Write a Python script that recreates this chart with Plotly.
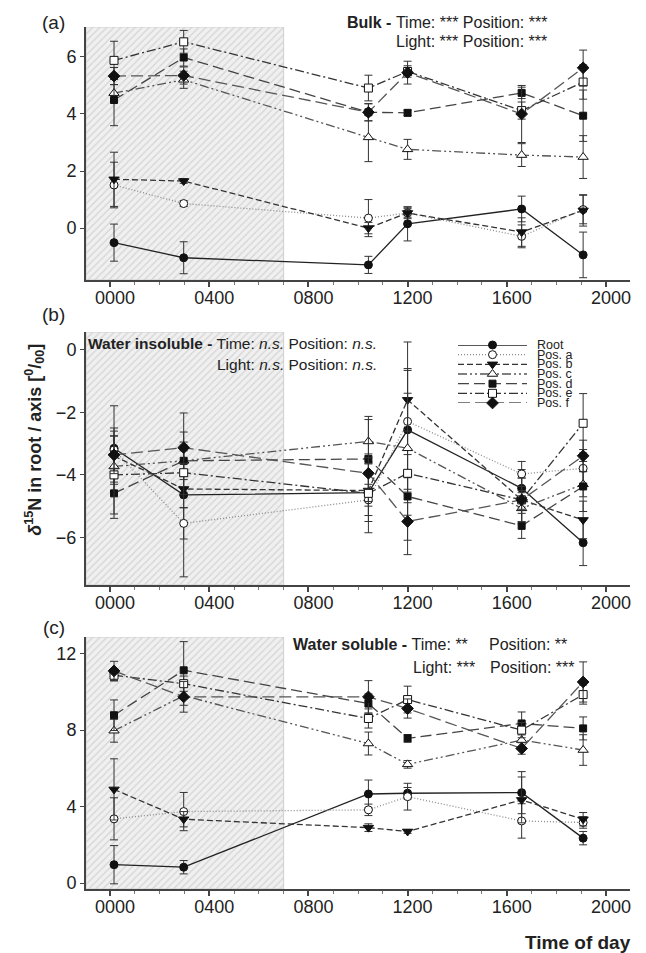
import plotly.graph_objects as go

# ---------------- data ----------------
times = [0.16, 2.97, 10.42, 12.0, 16.6, 19.08]          # hours of day
x_tickvals = [0, 4, 8, 12, 16, 20]
x_ticktext = ["0000", "0400", "0800", "1200", "1600", "2000"]
dark_end = 7.0                                           # end of dark period (h)

series_names = ["Root", "Pos. a", "Pos. b", "Pos. c", "Pos. d", "Pos. e", "Pos. f"]

# (a) Bulk
bulk_root = [-0.51, -1.04, -1.29, 0.15, 0.67, -0.94]
bulk_root_err = [0.65, 0.56, 0.30, 0.60, 0.45, 0.80]
bulk_a = [1.51, 0.86, 0.35, 0.53, -0.29, 0.65]
bulk_a_err = [0.80, 0.10, 0.65, 0.15, 0.40, 0.50]
bulk_b = [1.71, 1.65, 0.00, 0.53, -0.14, 0.62]
bulk_b_err = [0.95, 0.08, 0.20, 0.20, 0.50, 0.55]
bulk_c = [4.73, 5.20, 3.18, 2.76, 2.56, 2.49]
bulk_c_err = [0.30, 0.30, 0.85, 0.35, 0.40, 0.75]
bulk_d = [4.49, 5.98, 4.06, 4.04, 4.74, 3.94]
bulk_d_err = [0.90, 0.30, 0.30, 0.10, 0.20, 0.90]
bulk_e = [5.88, 6.53, 4.91, 5.49, 4.12, 5.12]
bulk_e_err = [0.67, 0.40, 0.45, 0.20, 0.30, 0.60]
bulk_f = [5.33, 5.35, 4.06, 5.45, 4.00, 5.62]
bulk_f_err = [0.30, 0.30, 0.30, 0.40, 1.00, 0.62]

# (b) Water insoluble
insol_root = [-3.15, -4.64, -4.57, -2.56, -4.43, -6.17]
insol_root_err = [1.36, 2.62, 0.92, 1.90, 0.60, 0.73]
insol_a = [-3.20, -5.55, -4.80, -2.29, -3.97, -3.79]
insol_a_err = [0.60, 0.50, 0.50, 0.90, 0.40, 0.60]
insol_b = [-3.40, -4.45, -4.50, -1.60, -4.80, -5.44]
insol_b_err = [0.90, 0.60, 0.50, 1.00, 0.70, 0.60]
insol_c = [-3.73, -3.55, -2.93, -3.15, -5.07, -4.30]
insol_c_err = [0.50, 0.50, 0.70, 3.40, 0.50, 0.40]
insol_d = [-4.59, -3.55, -3.49, -4.69, -5.63, -4.37]
insol_d_err = [0.80, 0.60, 1.36, 0.60, 0.40, 0.80]
insol_e = [-4.00, -3.93, -4.59, -3.95, -4.80, -2.35]
insol_e_err = [1.25, 0.70, 1.26, 0.60, 0.30, 0.95]
insol_f = [-3.36, -3.13, -3.95, -5.49, -4.80, -3.39]
insol_f_err = [0.60, 0.50, 0.50, 0.60, 0.70, 0.50]

# (c) Water soluble
sol_root = [0.96, 0.83, 4.66, 4.70, 4.73, 2.35]
sol_root_err = [1.00, 0.35, 0.73, 0.30, 1.10, 0.35]
sol_a = [3.36, 3.74, 3.83, 4.52, 3.25, 3.17]
sol_a_err = [1.10, 1.00, 0.30, 0.70, 0.90, 0.30]
sol_b = [4.90, 3.34, 2.90, 2.70, 4.35, 3.34]
sol_b_err = [1.60, 0.40, 0.20, 0.10, 1.20, 0.35]
sol_c = [7.97, 9.80, 7.30, 6.21, 7.48, 6.96]
sol_c_err = [0.60, 0.50, 0.60, 0.20, 0.50, 0.80]
sol_d = [8.78, 11.13, 9.39, 7.57, 8.35, 8.09]
sol_d_err = [0.80, 1.50, 0.50, 0.20, 0.60, 0.60]
sol_e = [10.87, 10.43, 8.61, 9.60, 8.00, 9.86]
sol_e_err = [0.30, 0.40, 0.50, 0.70, 0.40, 0.50]
sol_f = [11.10, 9.74, 9.74, 9.13, 7.04, 10.52]
sol_f_err = [0.50, 0.80, 0.85, 0.50, 0.30, 1.05]

# ---------------- styles ----------------
FONT = "Liberation Sans, Arial, sans-serif"
styles = [
    dict(dash="solid", lc="#222222", sym="circle", fill="#111111", size=8),
    dict(dash="1px,2px", lc="#8a8a8a", sym="circle", fill="white", size=8),
    dict(dash="6px,3px", lc="#333333", sym="triangle-down", fill="#111111", size=9),
    dict(dash="9px,3px,2px,3px,2px,3px", lc="#555555", sym="triangle-up", fill="white", size=9),
    dict(dash="11px,5px", lc="#444444", sym="square", fill="#111111", size=7),
    dict(dash="9px,3px,2px,3px", lc="#333333", sym="square", fill="white", size=8),
    dict(dash="12px,5px", lc="#555555", sym="diamond", fill="#111111", size=9),
]

x_range = [-0.97, 20.97]
panels = [
    dict(xa="x", ya="y", yrange=[-1.82, 7.05], yticks=[0, 2, 4, 6], dom=[0.7065, 1.0],
         data=[(bulk_root, bulk_root_err), (bulk_a, bulk_a_err), (bulk_b, bulk_b_err),
               (bulk_c, bulk_c_err), (bulk_d, bulk_d_err), (bulk_e, bulk_e_err),
               (bulk_f, bulk_f_err)]),
    dict(xa="x2", ya="y2", yrange=[-7.52, 0.57], yticks=[-6, -4, -2, 0], dom=[0.3527, 0.6462],
         data=[(insol_root, insol_root_err), (insol_a, insol_a_err), (insol_b, insol_b_err),
               (insol_c, insol_c_err), (insol_d, insol_d_err), (insol_e, insol_e_err),
               (insol_f, insol_f_err)]),
    dict(xa="x3", ya="y3", yrange=[-0.31, 12.87], yticks=[0, 4, 8, 12], dom=[0.0, 0.2923],
         data=[(sol_root, sol_root_err), (sol_a, sol_a_err), (sol_b, sol_b_err),
               (sol_c, sol_c_err), (sol_d, sol_d_err), (sol_e, sol_e_err),
               (sol_f, sol_f_err)]),
]

fig = go.Figure()

for p in panels:
    y0, y1 = p["yrange"]
    x0 = x_range[0]
    # hatched dark period
    fig.add_trace(go.Scatter(
        x=[x0, dark_end, dark_end, x0, x0], y=[y0, y0, y1, y1, y0],
        xaxis=p["xa"], yaxis=p["ya"], mode="lines", fill="toself",
        fillcolor="#eeeeee",
        fillpattern=dict(shape="/", size=5, solidity=0.25, fgcolor="#b8b8b8", bgcolor="#f0f0f0"),
        line=dict(color="#cfcfcf", width=1), hoverinfo="skip", showlegend=False))
    for (vals, errs), st, name in zip(p["data"], styles, series_names):
        fig.add_trace(go.Scatter(
            x=times, y=vals, name=name, xaxis=p["xa"], yaxis=p["ya"],
            mode="lines+markers",
            line=dict(color=st["lc"], width=1.3, dash=st["dash"]),
            marker=dict(symbol=st["sym"], size=st["size"], color=st["fill"],
                        line=dict(color="#111111", width=1)),
            error_y=dict(type="data", array=errs, visible=True, color="#333333",
                         thickness=1, width=4),
            showlegend=False))

axis_common = dict(showline=True, linecolor="#444444", linewidth=2, showgrid=False,
                   zeroline=False, ticks="outside", tickcolor="#444444",
                   tickfont=dict(family=FONT, size=18, color="#222222"))

layout_axes = {}
for i, p in enumerate(panels):
    sfx = "" if i == 0 else str(i + 1)
    layout_axes["xaxis" + sfx] = dict(
        axis_common, domain=[0, 1], anchor=p["ya"], range=x_range,
        tickmode="array", tickvals=x_tickvals, ticktext=x_ticktext, ticklen=5, tickwidth=1.5,
        ticklabelshift=5, ticklabelstandoff=-5,
        minor=dict(tickmode="linear", tick0=0, dtick=1, ticks="outside", ticklen=3,
                   tickcolor="#777777", tickwidth=1))
    layout_axes["yaxis" + sfx] = dict(
        axis_common, domain=p["dom"], anchor=p["xa"], range=p["yrange"],
        tickmode="array", tickvals=p["yticks"], ticklen=4, tickwidth=1.2)

# ---------- hand-made legend inside panel (b) ----------
layout_axes["xaxis4"] = dict(domain=[0.6838, 0.8107], range=[0, 1], anchor="y4", visible=False,
                             fixedrange=True)
layout_axes["yaxis4"] = dict(domain=[0.5638, 0.6311], range=[6, 0], anchor="x4", visible=False,
                             fixedrange=True)
legend_ann = []
for i, (st, name) in enumerate(zip(styles, series_names)):
    fig.add_trace(go.Scatter(x=[0, 1], y=[i, i], xaxis="x4", yaxis="y4", mode="lines",
                             line=dict(color=st["lc"], width=1.3, dash=st["dash"]),
                             cliponaxis=False, hoverinfo="skip", showlegend=False))
    fig.add_trace(go.Scatter(x=[0.5], y=[i], xaxis="x4", yaxis="y4", mode="markers",
                             marker=dict(symbol=st["sym"], size=st["size"], color=st["fill"],
                                         line=dict(color="#111111", width=1)),
                             cliponaxis=False, hoverinfo="skip", showlegend=False))
    legend_ann.append(dict(x=1, y=i, xref="x4", yref="y4", text=name, showarrow=False,
                           xanchor="left", yanchor="middle", xshift=8,
                           font=dict(family=FONT, size=12.5, color="#222222")))

def ann(text, x, y, xanchor="right", size=16, **kw):
    return dict(text=text, x=x, y=y, xref="paper", yref="paper", showarrow=False,
                xanchor=xanchor, yanchor="middle",
                font=dict(family=FONT, size=size, color="#222222"), **kw)

annotations = legend_ann + [
    ann("(a)", -0.059, 1.0058, xanchor="center", size=19),
    ann("(b)", -0.059, 0.6659, xanchor="center", size=19),
    ann("(c)", -0.059, 0.3039, xanchor="center", size=19),
    ann("<b>Bulk - </b>Time: *** Position: ***", 0.851, 1.005),
    ann("Light: *** Position: ***", 0.851, 0.983),
    ann("<b>Water insoluble - </b>Time: <i>n.s.</i> Position: <i>n.s.</i>", 0.5386, 0.6334, size=15.5),
    ann("Light: <i>n.s.</i> Position: <i>n.s.</i>", 0.5386, 0.6090, size=15.5),
    ann("<b>Water soluble - </b>Time: **", 0.7059, 0.2831),
    ann("Position: **", 0.7371, 0.2831, xanchor="left"),
    ann("Light: ***", 0.7188, 0.2575),
    ann("Position: ***", 0.739, 0.2575, xanchor="left"),
    ann("<b><i>δ</i><sup>15</sup>N in root / axis [<sup>0</sup>/<sub>00</sub>]</b>",
        -0.094, 0.521, xanchor="center", size=18, textangle=-90),
    ann("<b>Time of day</b>", 1.0055, -0.0615, size=19),
]

# The page body has an 8 px margin, so the figure is sized 8 px smaller and the
# margins shifted so the plot areas land where the reference has them.
fig.update_layout(
    width=638, height=945,
    margin=dict(l=78, r=16, t=19, b=64),
    paper_bgcolor="white", plot_bgcolor="rgba(0,0,0,0)",
    showlegend=False,
    font=dict(family=FONT, color="#222222"),
    annotations=annotations,
    **layout_axes,
)

fig.write_html("out.html")
